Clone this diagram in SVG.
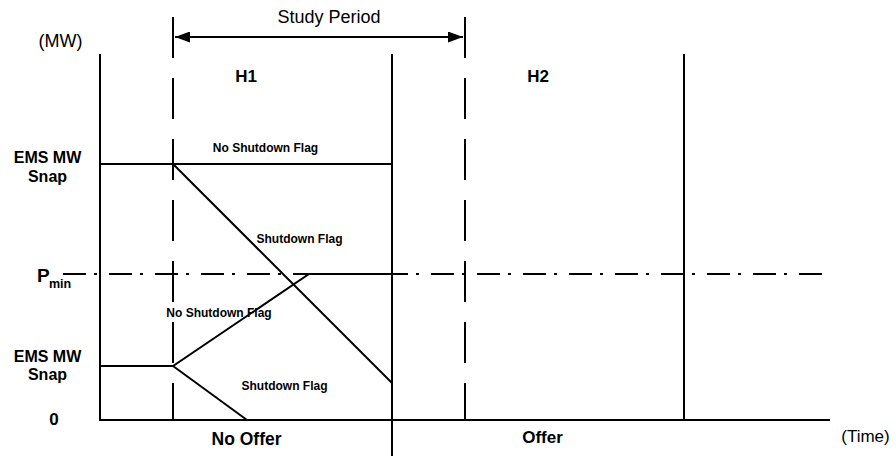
<svg xmlns="http://www.w3.org/2000/svg" width="896" height="456" viewBox="0 0 896 456">
<defs>
<marker id="ah" markerWidth="15" markerHeight="11" refX="15" refY="5.5" orient="auto-start-reverse" markerUnits="userSpaceOnUse">
<path d="M0,0 L15,5.5 L0,11 Z" fill="#000"/>
</marker>
<style>
.s{stroke:#000;stroke-width:2;fill:none}
.d{stroke:#000;stroke-width:2;fill:none;stroke-dasharray:41 20}
.dd{stroke:#000;stroke-width:2;fill:none;stroke-dasharray:23 8 3 12}
text{font-family:"Liberation Sans",Arial,sans-serif;fill:#000}
.b{font-weight:bold}
.f{font-size:12px;font-weight:bold;text-anchor:middle}
.y{font-size:16px;font-weight:bold;text-anchor:middle}
</style>
</defs>
<rect width="896" height="456" fill="#fff"/>
<g id="axes">
<path class="s" d="M100,54 V420 H830"/>
<path class="s" d="M392,54 V456"/>
<path class="s" d="M684,54 V420"/>
<path class="d" d="M173,17 V420"/>
<path class="d" d="M465,17 V420"/>
<path class="dd" d="M63,274 H823"/>
</g>
<g id="connectors">
<path class="s" d="M175,37 H463" marker-start="url(#ah)" marker-end="url(#ah)"/>
<path class="s" d="M100,164 H392"/>
<path class="s" d="M173,164 L392,383"/>
<path class="s" d="M100,366 H173 L309,274 H392"/>
<path class="s" d="M173,366 L247,420"/>
</g>
<g id="labels">
<text x="329" y="23" font-size="18" text-anchor="middle">Study Period</text>
<text x="60.5" y="47" font-size="18" text-anchor="middle">(MW)</text>
<text x="246" y="82" font-size="17" text-anchor="middle" class="b">H1</text>
<text x="538" y="82" font-size="17" text-anchor="middle" class="b">H2</text>
<text x="47.5" y="163" class="y">EMS MW</text>
<text x="47.5" y="182" class="y">Snap</text>
<text x="47.5" y="362" class="y">EMS MW</text>
<text x="47.5" y="380" class="y">Snap</text>
<text x="37" y="282" font-size="19" class="b">P</text>
<text x="49" y="288" font-size="12.5" class="b">min</text>
<text x="54" y="425" font-size="17" text-anchor="middle" class="b">0</text>
<text x="265.5" y="152" class="f">No Shutdown Flag</text>
<text x="299.5" y="243" class="f">Shutdown Flag</text>
<text x="219" y="317" class="f">No Shutdown Flag</text>
<text x="284.5" y="390" class="f">Shutdown Flag</text>
<text x="246.5" y="445" font-size="17.5" text-anchor="middle" class="b">No Offer</text>
<text x="542.5" y="443" font-size="17" text-anchor="middle" class="b">Offer</text>
<text x="865.5" y="442" font-size="17" text-anchor="middle">(Time)</text>
</g>
</svg>
